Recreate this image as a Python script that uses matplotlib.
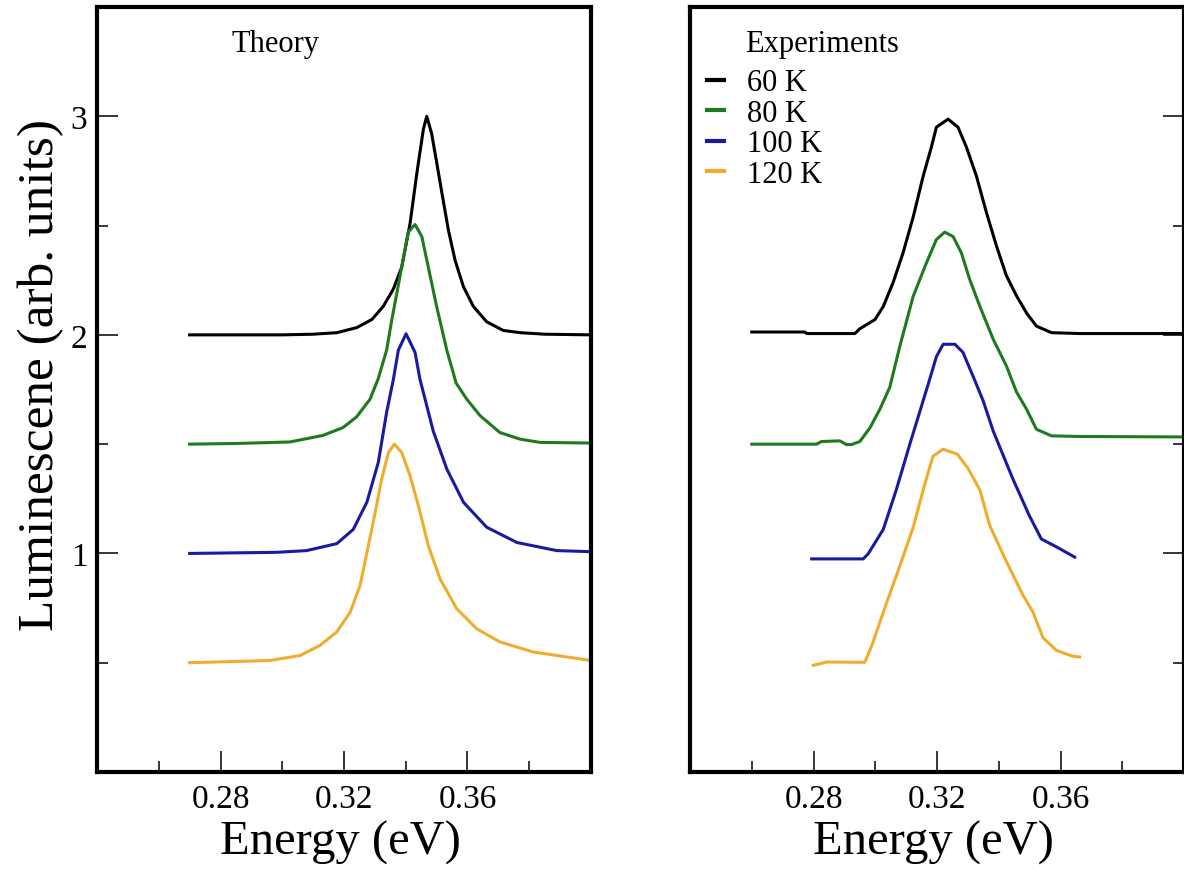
import matplotlib
matplotlib.use("Agg")
import matplotlib.pyplot as plt
from matplotlib.ticker import MultipleLocator

plt.rcParams['font.family'] = ['Liberation Serif', 'DejaVu Serif']

# ---------------- data ----------------
labels = ["60 K", "80 K", "100 K", "120 K"]
colors = ["#000000", "#1f7a1f", "#1a1aa0", "#f0ac2c"]

# Theory
th60_x = [0.27, 0.30, 0.31, 0.3177, 0.3241, 0.329, 0.3327, 0.336, 0.3387, 0.3414, 0.3436, 0.3457,
          0.3468, 0.3484, 0.35, 0.3517, 0.3538, 0.356, 0.3587, 0.3619, 0.3662, 0.3716, 0.377, 0.385, 0.40]
th60_y = [2.0, 2.0, 2.003, 2.01, 2.033, 2.07, 2.13, 2.21, 2.31, 2.51, 2.74, 2.94,
          3.0, 2.92, 2.79, 2.65, 2.48, 2.34, 2.22, 2.13, 2.06, 2.02, 2.01, 2.003, 2.0]

th80_x = [0.27, 0.285, 0.3025, 0.3132, 0.3197, 0.3241, 0.3284, 0.3311, 0.3338, 0.3355, 0.3387, 0.3408,
          0.343, 0.3452, 0.3473, 0.35, 0.3533, 0.3563, 0.3598, 0.3641, 0.3705, 0.377, 0.3835, 0.40]
th80_y = [1.5, 1.503, 1.51, 1.54, 1.576, 1.625, 1.705, 1.80, 1.93, 2.07, 2.31, 2.47,
          2.505, 2.45, 2.31, 2.13, 1.93, 1.78, 1.705, 1.63, 1.553, 1.523, 1.508, 1.505]

th100_x = [0.27, 0.2982, 0.3079, 0.3177, 0.323, 0.3274, 0.3311, 0.3338, 0.336, 0.3376, 0.3401,
           0.343, 0.3446, 0.3489, 0.3533, 0.3587, 0.3662, 0.376, 0.3889, 0.40]
th100_y = [1.0, 1.005, 1.013, 1.045, 1.11, 1.234, 1.416, 1.645, 1.797, 1.93, 2.005,
           1.92, 1.797, 1.56, 1.386, 1.234, 1.12, 1.05, 1.013, 1.008]

th120_x = [0.27, 0.296, 0.3058, 0.3122, 0.3176, 0.322, 0.3252, 0.3279, 0.3301, 0.3322, 0.3344, 0.3363,
           0.3387, 0.3414, 0.3441, 0.3473, 0.3511, 0.3565, 0.363, 0.3705, 0.3813, 0.40]
th120_y = [0.5, 0.51, 0.533, 0.579, 0.64, 0.731, 0.853, 1.036, 1.188, 1.34, 1.462, 1.50,
           1.462, 1.355, 1.218, 1.036, 0.884, 0.747, 0.655, 0.595, 0.549, 0.51]

# Experiments
ex60_x = [0.26, 0.2772, 0.2778, 0.2934, 0.295, 0.2999, 0.3026, 0.3058, 0.309, 0.3123, 0.3155, 0.3182,
          0.3198, 0.3236, 0.3268, 0.3295, 0.3328, 0.336, 0.3393, 0.3425, 0.3457, 0.349, 0.3522,
          0.3571, 0.3662, 0.40]
ex60_y = [2.013, 2.013, 2.006, 2.006, 2.028, 2.07, 2.13, 2.24, 2.375, 2.54, 2.725, 2.86,
          2.95, 2.987, 2.95, 2.86, 2.725, 2.56, 2.405, 2.27, 2.18, 2.10, 2.04,
          2.01, 2.006, 2.006]

ex80_x = [0.26, 0.281, 0.2826, 0.2885, 0.2907, 0.2923, 0.295, 0.2983, 0.3015, 0.3047, 0.308, 0.3123,
          0.3166, 0.3198, 0.3225, 0.3252, 0.3279, 0.3306, 0.3339, 0.3382, 0.3425, 0.3457, 0.349,
          0.3522, 0.3571, 0.3662, 0.40]
ex80_y = [1.50, 1.50, 1.512, 1.515, 1.498, 1.498, 1.512, 1.575, 1.66, 1.76, 1.95, 2.177,
          2.33, 2.436, 2.47, 2.45, 2.375, 2.253, 2.13, 1.98, 1.857, 1.74, 1.66,
          1.568, 1.538, 1.535, 1.533]

ex100_x = [0.2794, 0.2961, 0.2977, 0.3026, 0.3069, 0.3112, 0.315, 0.3177, 0.3198, 0.322, 0.3258,
           0.3284, 0.3317, 0.3349, 0.3382, 0.3446, 0.35, 0.3538, 0.3587, 0.3646]
ex100_y = [0.975, 0.975, 0.998, 1.11, 1.295, 1.50, 1.675, 1.80, 1.90, 1.957, 1.957,
           1.92, 1.81, 1.70, 1.56, 1.34, 1.17, 1.066, 1.03, 0.983]

ex120_x = [0.2799, 0.2842, 0.2966, 0.2989, 0.3037, 0.308, 0.3123, 0.3161, 0.3187, 0.322, 0.3266,
           0.33, 0.3339, 0.3371, 0.3419, 0.3478, 0.3511, 0.3543, 0.3587, 0.3639, 0.3662]
ex120_y = [0.488, 0.503, 0.502, 0.579, 0.775, 0.944, 1.12, 1.32, 1.445, 1.477, 1.454,
           1.39, 1.29, 1.127, 0.98, 0.81, 0.731, 0.615, 0.556, 0.53, 0.526]

theory = [(th60_x, th60_y), (th80_x, th80_y), (th100_x, th100_y), (th120_x, th120_y)]
experiment = [(ex60_x, ex60_y), (ex80_x, ex80_y), (ex100_x, ex100_y), (ex120_x, ex120_y)]

xticks = [0.28, 0.32, 0.36]
yticks = [1, 2, 3]

# ---------------- figure ----------------
W, H = 1184, 870
fig = plt.figure(figsize=(W / 100, H / 100), dpi=100)
fig.patch.set_facecolor("white")

ax_l = fig.add_axes([97 / W, 1 - 773 / H, 494 / W, 765 / H])
ax_r = fig.add_axes([690 / W, 1 - 773 / H, 494 / W, 765 / H])

for ax in (ax_l, ax_r):
    ax.set_xlim(0.24, 0.40)
    ax.set_ylim(0, 3.5)
    ax.xaxis.set_major_locator(MultipleLocator(0.04))
    ax.xaxis.set_minor_locator(MultipleLocator(0.02))
    ax.yaxis.set_major_locator(MultipleLocator(1))
    ax.yaxis.set_minor_locator(MultipleLocator(0.5))
    ax.set_xticks(xticks)
    ax.set_xticklabels([f"{t:.2f}" for t in xticks])
    for s in ax.spines.values():
        s.set_linewidth(3.0)
    ax.tick_params(which="major", direction="in", length=15, width=1.1, labelsize=24)
    ax.tick_params(which="minor", direction="in", length=8, width=1.1)
    ax.tick_params(axis="x", which="both", top=False, bottom=True, pad=8)
    ax.set_xlabel("Energy (eV)", fontsize=35)
    ax.xaxis.set_label_coords(0.492, -0.062)

# left: y ticks on left
ax_l.tick_params(axis="y", which="both", left=True, right=False, labelleft=True, pad=7)
ax_l.set_yticks(yticks)
ax_l.set_yticklabels([str(t) for t in yticks])
ax_l.set_ylabel("Luminescene (arb. units)", fontsize=37)
ax_l.yaxis.set_label_coords(-0.067, 0.52)

# right: y ticks on right, no labels
ax_r.tick_params(axis="y", which="both", left=False, right=True, labelleft=False, labelright=False)

for (x, y), c in zip(theory, colors):
    ax_l.plot(x, y, color=c, lw=2.2, solid_joinstyle="round")

handles = []
for (x, y), c, lab in zip(experiment, colors, labels):
    h, = ax_r.plot(x, y, color=c, lw=2.2, label=lab, solid_joinstyle="round")
    handles.append(h)

ax_l.text(0.273, 0.9425, "Theory", transform=ax_l.transAxes, fontsize=22, va="baseline", ha="left")
ax_r.text(0.1113, 0.9425, "Experiments", transform=ax_r.transAxes, fontsize=22, va="baseline", ha="left")

leg = ax_r.legend(handles=handles, loc="upper left", bbox_to_anchor=(0.0344, 0.920),
                  frameon=False, fontsize=22, handlelength=0.55, handletextpad=0.75,
                  labelspacing=0.05, borderpad=0.0, borderaxespad=0.0)
for lh in leg.get_lines():
    lh.set_linewidth(3)

fig.savefig("out.png", dpi=100, facecolor="white")
